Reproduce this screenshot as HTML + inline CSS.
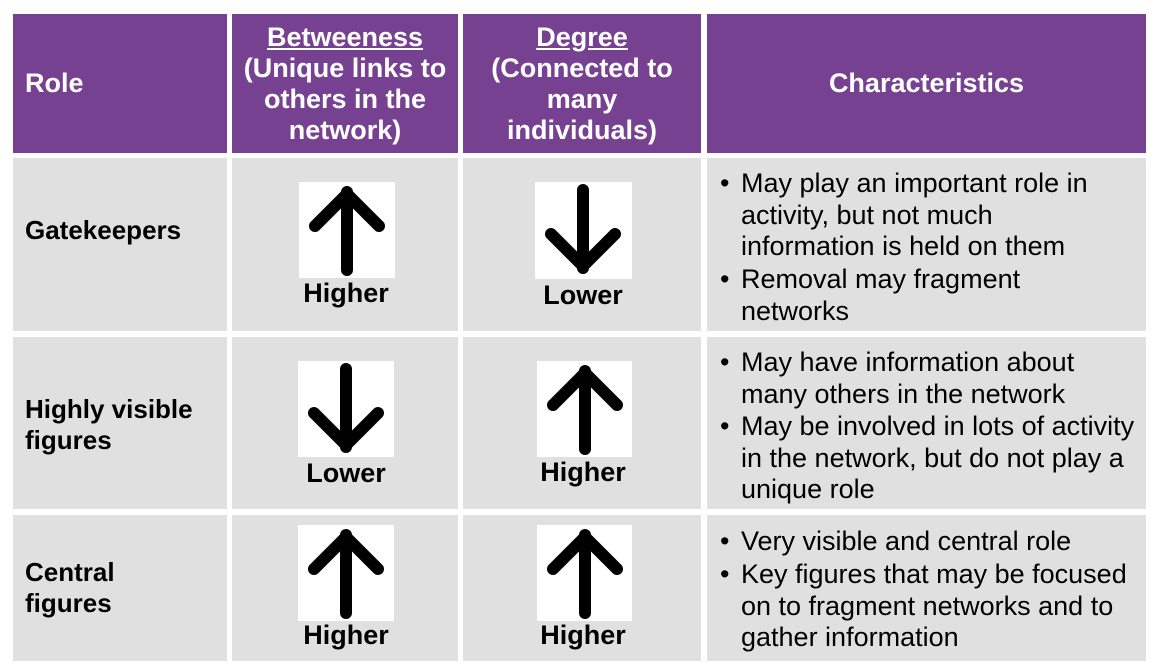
<!DOCTYPE html>
<html><head><style>
body{margin:0;width:1156px;height:666px;background:#fff;position:relative;overflow:hidden;font-family:"Liberation Sans",Arial,sans-serif}
.c{position:absolute}
.h{background:#774191;color:#fff;font-weight:bold;font-size:27px}
.g{background:#e0e0e0}
.t{position:absolute;white-space:nowrap;line-height:31px}
.ab{position:absolute;background:#fff}
.lbl{position:absolute;font-weight:bold;font-size:27px;width:140px;text-align:center}
.ch{position:absolute;left:741px;font-size:27px;line-height:31.5px;color:#000;white-space:nowrap}
.b{position:absolute;left:-21px}
</style></head><body>
<div class="c h" style="left:13px;top:14px;width:214px;height:139px"></div>
<div class="c h" style="left:232px;top:14px;width:226px;height:139px"></div>
<div class="c h" style="left:463px;top:14px;width:238px;height:139px"></div>
<div class="c h" style="left:707px;top:14px;width:439px;height:139px"></div>
<div class="t h" style="left:25px;top:68px;background:none">Role</div>
<div class="t h" style="left:232px;width:226px;top:22px;text-align:center;background:none"><u>Betweeness</u><br>(Unique links to<br>others in the<br>network)</div>
<div class="t h" style="left:463px;width:238px;top:22px;text-align:center;background:none"><u>Degree</u><br>(Connected to<br>many<br>individuals)</div>
<div class="t h" style="left:707px;width:439px;top:68px;text-align:center;background:none">Characteristics</div>

<div class="c g" style="left:13px;top:158px;width:214px;height:173px"></div>
<div class="c g" style="left:232px;top:158px;width:226px;height:173px"></div>
<div class="c g" style="left:463px;top:158px;width:238px;height:173px"></div>
<div class="c g" style="left:707px;top:158px;width:439px;height:173px"></div>
<div class="c g" style="left:13px;top:337px;width:214px;height:172px"></div>
<div class="c g" style="left:232px;top:337px;width:226px;height:172px"></div>
<div class="c g" style="left:463px;top:337px;width:238px;height:172px"></div>
<div class="c g" style="left:707px;top:337px;width:439px;height:172px"></div>
<div class="c g" style="left:13px;top:515px;width:214px;height:146px"></div>
<div class="c g" style="left:232px;top:515px;width:226px;height:146px"></div>
<div class="c g" style="left:463px;top:515px;width:238px;height:146px"></div>
<div class="c g" style="left:707px;top:515px;width:439px;height:146px"></div>

<div class="t" style="left:25px;top:215px;font-weight:bold;font-size:26px">Gatekeepers</div>
<div class="t" style="left:25px;top:394px;font-weight:bold;font-size:26px">Highly visible<br>figures</div>
<div class="t" style="left:25px;top:557px;font-weight:bold;font-size:26px">Central<br>figures</div>

<svg width="0" height="0" style="position:absolute"><defs>
<g id="up"><path d="M48 88 V10 M16 44 L48 12 L80 44" stroke="#000" stroke-width="12" fill="none" stroke-linecap="round" stroke-linejoin="round"/></g>
<g id="dn"><path d="M48 8 V86 M16 52 L48 84 L80 52" stroke="#000" stroke-width="12" fill="none" stroke-linecap="round" stroke-linejoin="round"/></g>
</defs></svg>
<svg class="ab" style="left:299px;top:182px" width="96" height="96"><use href="#up"/></svg>
<svg class="ab" style="left:535px;top:182px" width="97" height="97"><use href="#dn"/></svg>
<svg class="ab" style="left:298px;top:361px" width="96" height="96"><use href="#dn"/></svg>
<svg class="ab" style="left:537px;top:361px" width="95" height="96"><use href="#up"/></svg>
<svg class="ab" style="left:298px;top:525px" width="96" height="96"><use href="#up"/></svg>
<svg class="ab" style="left:537px;top:525px" width="95" height="96"><use href="#up"/></svg>

<div class="lbl" style="left:276px;top:278px">Higher</div>
<div class="lbl" style="left:513px;top:280px">Lower</div>
<div class="lbl" style="left:276px;top:458px">Lower</div>
<div class="lbl" style="left:513px;top:457px">Higher</div>
<div class="lbl" style="left:276px;top:620px">Higher</div>
<div class="lbl" style="left:513px;top:620px">Higher</div>

<div class="ch" style="top:168px"><span class="b">•</span>May play an important role in<br>activity, but not much<br>information is held on them</div>
<div class="ch" style="top:264px"><span class="b">•</span>Removal may fragment<br>networks</div>
<div class="ch" style="top:347px"><span class="b">•</span>May have information about<br>many others in the network</div>
<div class="ch" style="top:411px"><span class="b">•</span>May be involved in lots of activity<br>in the network, but do not play a<br>unique role</div>
<div class="ch" style="top:526px"><span class="b">•</span>Very visible and central role</div>
<div class="ch" style="top:559px"><span class="b">•</span>Key figures that may be focused<br>on to fragment networks and to<br>gather information</div>
</body></html>
